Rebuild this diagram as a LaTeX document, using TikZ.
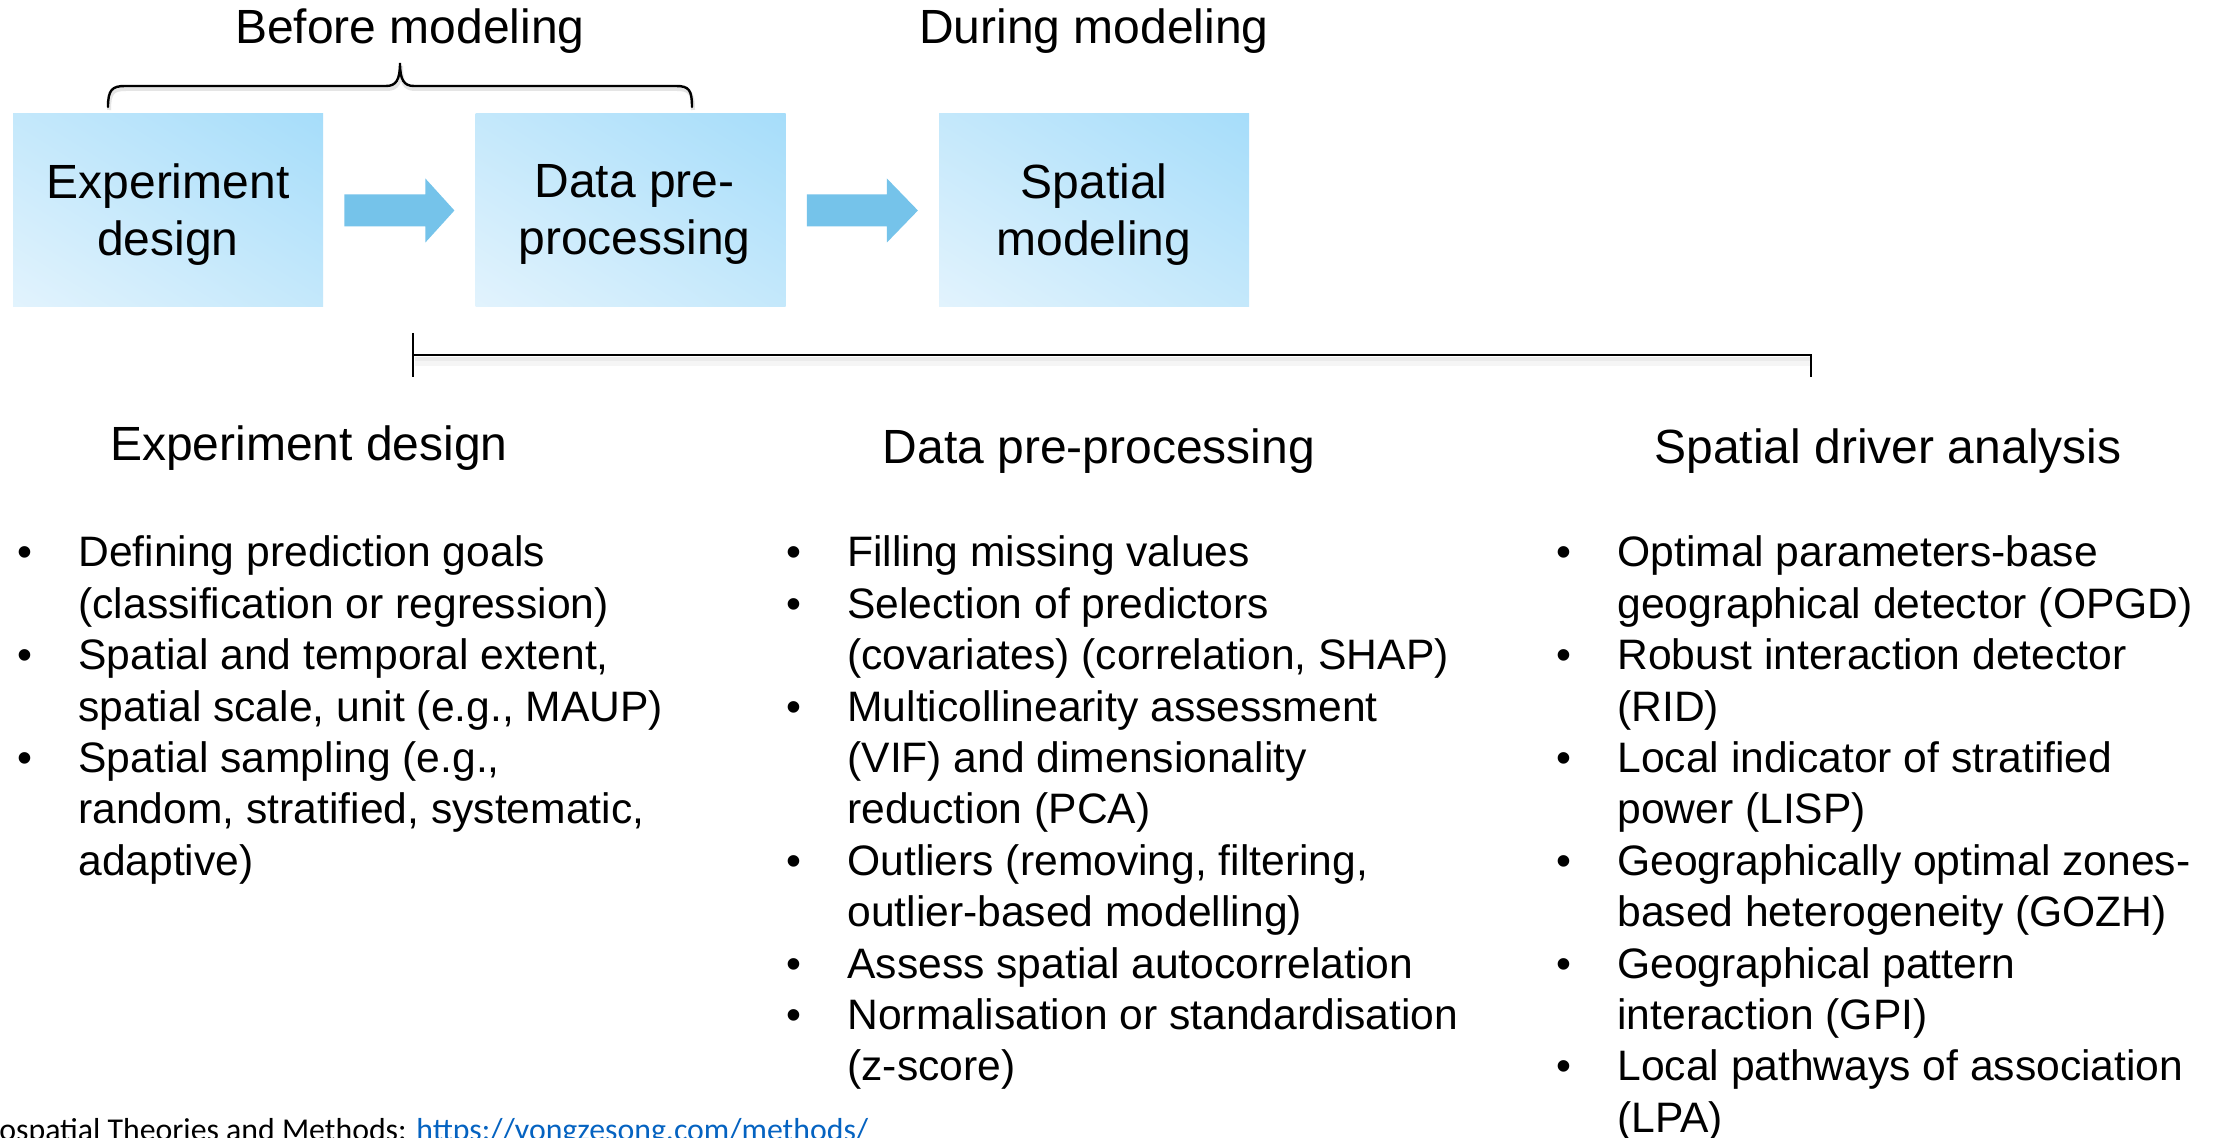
\documentclass[tikz,border=0pt]{standalone}
\usepackage{fontspec}
\setmainfont{Liberation Sans}
\newfontfamily\footfont{Carlito}
\usetikzlibrary{shadings,calc}
\definecolor{boxhi}{HTML}{A6DDFA}
\definecolor{boxlo}{HTML}{E2F3FD}
\definecolor{boxmid}{HTML}{C4E8FB}
\definecolor{arrowblue}{HTML}{75C3EA}
\definecolor{linkblue}{HTML}{0563C1}
\newcommand\lstsetup{\baselineskip=25.7pt\lineskiplimit=-100pt\lineskip=0pt}
\newcommand\bitem[1]{\hbox{\llap{\makebox[0pt]{•}\hspace{26.5pt}}#1}}
\newcommand\contl[1]{\hbox{#1}}
\begin{document}
\begin{tikzpicture}[x=0.5pt,y=-0.5pt,
  stepbox/.style={draw=none, minimum width=155pt, minimum height=96.5pt, inner sep=0pt,
    lower left=boxlo, upper right=boxhi, upper left=boxmid, lower right=boxmid},
  boxtext/.style={inner sep=0pt, align=center, font=\fontsize{24}{28.8}\selectfont},
  toplabel/.style={anchor=base, inner sep=0pt, font=\fontsize{24}{28.8}\selectfont},
  heading/.style={anchor=base, inner sep=0pt, font=\fontsize{24}{28.8}\selectfont},
  listnode/.style={anchor=base west, inner sep=0pt, font=\fontsize{21.3}{25.7}\selectfont},
  blkarrow/.style={fill=arrowblue, draw=none},
  bracestyle/.style={draw=black, line width=1.2pt, line cap=round},
  barstyle/.style={draw=black, line width=1.3pt}
]
\clip (0,0) rectangle (2218,1138);
\fill[white] (0,0) rectangle (2218,1138);

% top labels
\node[toplabel] (before) at (410,44) {Before modeling};
\node[toplabel] (during) at (1094,44) {During modeling};

% brace
\coordinate (brL) at (108,107);
\coordinate (brT) at (400,63);
\coordinate (brR) at (692,107);
\draw[black!10, line width=2pt] ($(brL)+(1,3)$) .. controls (109,92) and (113,89) .. (126,89) -- (387,89)
  .. controls (397,89) and (401,83) .. (401,66) .. controls (401,83) and (405,89) .. (415,89)
  -- (677,89) .. controls (690,89) and (693,93) .. ($(brR)+(1,3)$);
\draw[bracestyle] (brL) .. controls (108,90) and (112,86) .. (125,86) -- (386,86)
  .. controls (396,86) and (400,80) .. (brT) .. controls (400,80) and (404,86) .. (414,86)
  -- (676,86) .. controls (689,86) and (692,90) .. (brR);

% boxes
\node[stepbox] (b1) at (168,210.5) {};
\node[stepbox] (b2) at (630.5,210.5) {};
\node[stepbox] (b3) at (1094,210.5) {};
\node[boxtext] (t1) at ($(b1.center)+(0,4)$) {Experiment\\design};
\node[boxtext] (t2) at ($(b2.center)+(4,4)$) {Data pre-\\processing};
\node[boxtext] (t3) at ($(b3.center)+(0,4)$) {Spatial\\modeling};

% block arrows
\fill[blkarrow] ($(b1.east)+(21,-16)$) -- ++(81,0) -- ++(0,-16) -- ++(29,32) -- ++(-29,32)
  -- ++(0,-16) -- ++(-81,0) -- cycle;
\fill[blkarrow] ($(b2.east)+(21,-16)$) -- ++(80,0) -- ++(0,-16) -- ++(31,32) -- ++(-31,32)
  -- ++(0,-16) -- ++(-80,0) -- cycle;

% bracket line
\coordinate (barL) at (413,355);
\coordinate (barR) at (1811,355);
\draw[black!4, line width=4pt] ($(barL)+(2,7)$) -- ($(barR)+(0,7)$);
\draw[black!8, line width=2pt] ($(barL)+(2,4)$) -- ($(barR)+(0,4)$);
\draw[barstyle] ($(barL)+(0,-22)$) -- ($(barL)+(0,22)$);
\draw[barstyle] (barL) -- (barR) -- ($(barR)+(0,22)$);

% headings
\node[heading] (h1) at (309,461) {Experiment design};
\node[heading] (h2) at (1099,464) {Data pre-processing};
\node[heading] (h3) at (1888,464) {Spatial driver analysis};

% lists
\node[listnode] (l1) at (78,567) {\vtop{\lstsetup
  \bitem{Defining prediction goals}
  \contl{(classification or regression)}
  \bitem{Spatial and temporal extent,}
  \contl{spatial scale, unit (e.g., MAUP)}
  \bitem{Spatial sampling (e.g.,}
  \contl{random, stratified, systematic,}
  \contl{adaptive)}}};

\node[listnode] (l2) at (847,567) {\vtop{\lstsetup
  \bitem{Filling missing values}
  \bitem{Selection of predictors}
  \contl{(covariates) (correlation, SHAP)}
  \bitem{Multicollinearity assessment}
  \contl{(VIF) and dimensionality}
  \contl{reduction (PCA)}
  \bitem{Outliers (removing, filtering,}
  \contl{outlier-based modelling)}
  \bitem{Assess spatial autocorrelation}
  \bitem{Normalisation or standardisation}
  \contl{(z-score)}}};

\node[listnode] (l3) at (1617,567) {\vtop{\lstsetup
  \bitem{Optimal parameters-base}
  \contl{geographical detector (OPGD)}
  \bitem{Robust interaction detector}
  \contl{(RID)}
  \bitem{Local indicator of stratified}
  \contl{power (LISP)}
  \bitem{Geographically optimal zones-}
  \contl{based heterogeneity (GOZH)}
  \bitem{Geographical pattern}
  \contl{interaction (GPI)}
  \bitem{Local pathways of association}
  \contl{(LPA)}}};

% footer
\node[anchor=base west, inner sep=0pt, font=\footfont\fontsize{15.9}{19}\selectfont] (foot) at (-1,1140)
  {ospatial Theories and Methods: \textcolor{linkblue}{https://yongzesong.com/methods/}};
\end{tikzpicture}
\end{document}
